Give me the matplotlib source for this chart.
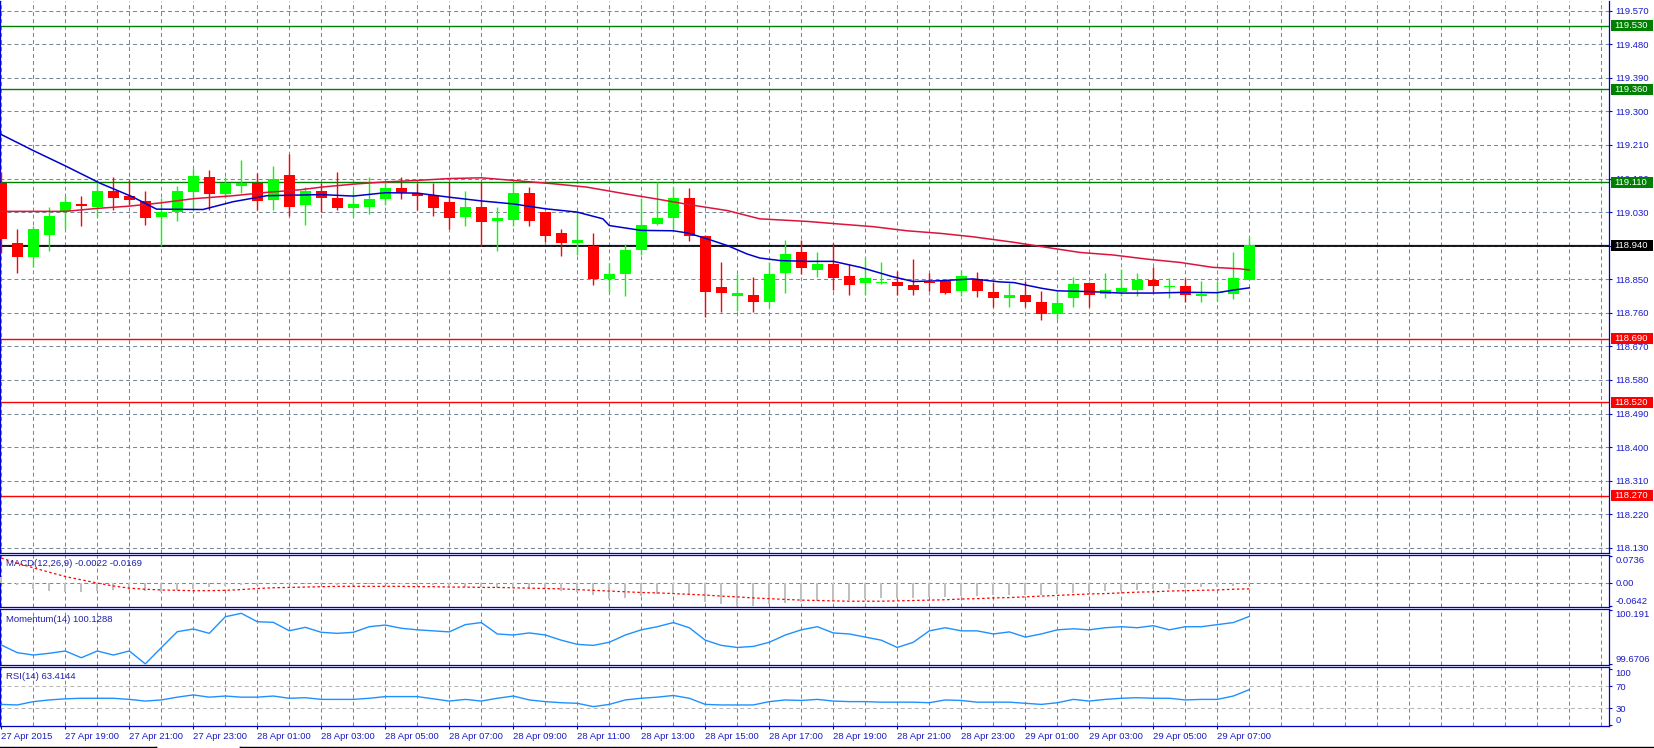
import numpy as np
import matplotlib.pyplot as plt
from matplotlib.patches import Rectangle
from matplotlib.lines import Line2D
from matplotlib.transforms import blended_transform_factory

# ---- data (USDJPY M30, 27-29 Apr 2015) ----
opens = [119.109, 118.948, 118.909, 118.968, 119.034, 119.053, 119.045, 119.086, 119.074, 119.061,
         119.016, 119.029, 119.084, 119.125, 119.079, 119.101, 119.107, 119.063, 119.129, 119.048,
         119.086, 119.068, 119.040, 119.045, 119.066, 119.095, 119.082, 119.077, 119.058, 119.016,
         119.043, 119.005, 119.008, 119.081, 119.029, 118.974, 118.946, 118.938, 118.851, 118.865,
         118.928, 118.997, 119.013, 119.068, 118.967, 118.828, 118.804, 118.809, 118.790, 118.866,
         118.924, 118.876, 118.891, 118.859, 118.839, 118.840, 118.843, 118.835, 118.843, 118.846,
         118.818, 118.851, 118.817, 118.799, 118.809, 118.790, 118.758, 118.801, 118.841, 118.810,
         118.817, 118.822, 118.848, 118.830, 118.832, 118.804, 118.812, 118.811, 118.849]
highs = [119.137, 118.986, 118.994, 119.045, 119.074, 119.074, 119.112, 119.125, 119.116, 119.086,
         119.068, 119.100, 119.146, 119.144, 119.125, 119.170, 119.136, 119.153, 119.187, 119.098,
         119.107, 119.138, 119.090, 119.125, 119.112, 119.125, 119.107, 119.107, 119.112, 119.086,
         119.112, 119.045, 119.112, 119.098, 119.031, 118.985, 119.032, 118.974, 118.894, 118.944,
         119.069, 119.112, 119.098, 119.096, 118.968, 118.897, 118.864, 118.855, 118.897, 118.956,
         118.956, 118.924, 118.946, 118.891, 118.907, 118.895, 118.873, 118.904, 118.866, 118.848,
         118.874, 118.869, 118.843, 118.839, 118.844, 118.819, 118.815, 118.855, 118.843, 118.866,
         118.877, 118.866, 118.884, 118.853, 118.853, 118.844, 118.846, 118.924, 118.964]
lows = [118.920, 118.868, 118.884, 118.927, 118.985, 118.992, 119.016, 119.035, 119.049, 118.996,
        118.940, 119.006, 119.035, 119.035, 119.068, 119.082, 119.036, 119.035, 119.019, 118.996,
        119.029, 119.035, 119.016, 119.024, 119.050, 119.066, 119.036, 119.019, 118.984, 118.993,
        118.938, 118.925, 118.994, 118.994, 118.950, 118.913, 118.916, 118.834, 118.817, 118.804,
        118.916, 118.995, 118.985, 118.952, 118.750, 118.762, 118.766, 118.762, 118.775, 118.814,
        118.864, 118.856, 118.821, 118.808, 118.808, 118.838, 118.808, 118.808, 118.819, 118.810,
        118.804, 118.803, 118.775, 118.776, 118.775, 118.741, 118.744, 118.776, 118.776, 118.799,
        118.806, 118.806, 118.817, 118.801, 118.788, 118.788, 118.791, 118.796, 118.849]
closes = [118.957, 118.911, 118.986, 119.020, 119.058, 119.046, 119.086, 119.068, 119.063, 119.013,
          119.029, 119.086, 119.128, 119.079, 119.107, 119.107, 119.060, 119.120, 119.045, 119.086,
          119.068, 119.042, 119.052, 119.066, 119.095, 119.082, 119.074, 119.040, 119.014, 119.043,
          119.003, 119.014, 119.082, 119.007, 118.966, 118.946, 118.956, 118.850, 118.863, 118.929,
          118.996, 119.014, 119.068, 118.967, 118.816, 118.812, 118.812, 118.789, 118.865, 118.919,
          118.879, 118.891, 118.854, 118.835, 118.853, 118.841, 118.833, 118.821, 118.839, 118.814,
          118.858, 118.819, 118.799, 118.809, 118.788, 118.758, 118.786, 118.837, 118.809, 118.821,
          118.827, 118.848, 118.831, 118.832, 118.808, 118.810, 118.813, 118.853, 118.943]

# moving averages, read at bar positions
ma_fast_x = [0, 2, 4, 6.2, 8.2, 9.7, 12.6, 14.5, 16.6, 20, 22, 24, 26, 28, 30, 32, 34, 36, 37.6,
             38, 40, 42, 42.9, 44, 45.4, 46.6, 47.4, 48.7, 50.4, 52, 53.7, 55.7, 57, 58.7, 60.7,
             62.4, 63.3, 65, 66, 68, 70, 72, 74, 76, 77, 78]
ma_fast_y = [119.238, 119.195, 119.154, 119.107, 119.071, 119.038, 119.037, 119.058, 119.074,
             119.077, 119.073, 119.082, 119.081, 119.070, 119.060, 119.052, 119.039, 119.030,
             119.012, 118.994, 118.981, 118.980, 118.974, 118.960, 118.940, 118.918, 118.907,
             118.900, 118.898, 118.898, 118.882, 118.857, 118.844, 118.846, 118.851, 118.843,
             118.841, 118.826, 118.819, 118.817, 118.813, 118.813, 118.815, 118.814, 118.821, 118.827]
ma_slow_x = [0, 4, 6, 8, 10, 12, 14.5, 16.6, 18.7, 20, 22, 24, 26, 28, 30, 32, 34.5, 36.6, 39, 41,
             43, 45.4, 47.4, 50.4, 52.4, 54.5, 56.6, 58.7, 60.7, 63.3, 65.4, 67.4, 69.5, 71.6,
             73.7, 75.7, 77.4, 78]
ma_slow_y = [119.032, 119.032, 119.040, 119.046, 119.055, 119.066, 119.074, 119.083, 119.090,
             119.097, 119.105, 119.111, 119.115, 119.120, 119.122, 119.115, 119.106, 119.097,
             119.079, 119.065, 119.050, 119.034, 119.012, 119.005, 118.998, 118.991, 118.980,
             118.973, 118.964, 118.949, 118.935, 118.922, 118.915, 118.904, 118.895, 118.882,
             118.878, 118.875]

# horizontal levels
levels_green = [119.530, 119.360, 119.110]
level_black = 118.940
levels_red = [118.690, 118.520, 118.270]
price_ticks = [119.570, 119.480, 119.390, 119.300, 119.210, 119.120, 119.030, 118.940, 118.850,
               118.760, 118.670, 118.580, 118.490, 118.400, 118.310, 118.220, 118.130]

macd_main = [0.017, -0.006, -0.018, -0.023, -0.025, -0.025, -0.023, -0.021, -0.021, -0.023,
             -0.026, -0.021, -0.018, -0.012, -0.009, -0.006, -0.005, -0.003, -0.004, -0.004,
             -0.004, -0.005, -0.005, -0.004, -0.003, -0.003, -0.005, -0.007, -0.010, -0.011,
             -0.013, -0.015, -0.012, -0.014, -0.018, -0.022, -0.025, -0.035, -0.045, -0.042,
             -0.036, -0.032, -0.028, -0.035, -0.052, -0.060, -0.063, -0.064, -0.060, -0.055,
             -0.052, -0.050, -0.048, -0.047, -0.045, -0.043, -0.042, -0.041, -0.040, -0.039,
             -0.037, -0.036, -0.035, -0.034, -0.033, -0.033, -0.031, -0.028, -0.026, -0.024,
             -0.022, -0.020, -0.018, -0.016, -0.015, -0.013, -0.011, -0.008, -0.0022]
macd_signal = [0.068, 0.054, 0.041, 0.029, 0.017, 0.008, -0.001, -0.009, -0.015, -0.018,
               -0.020, -0.021, -0.022, -0.022, -0.021, -0.019, -0.016, -0.014, -0.013, -0.012,
               -0.011, -0.010, -0.010, -0.010, -0.010, -0.010, -0.011, -0.011, -0.012, -0.012,
               -0.013, -0.013, -0.014, -0.015, -0.016, -0.017, -0.019, -0.021, -0.023, -0.025,
               -0.027, -0.028, -0.030, -0.032, -0.034, -0.037, -0.039, -0.042, -0.044, -0.046,
               -0.048, -0.049, -0.050, -0.051, -0.051, -0.051, -0.050, -0.049, -0.048, -0.047,
               -0.045, -0.044, -0.042, -0.041, -0.039, -0.037, -0.035, -0.033, -0.031, -0.030,
               -0.028, -0.026, -0.025, -0.023, -0.022, -0.021, -0.020, -0.018, -0.0169]
momentum = [99.854, 99.780, 99.757, 99.774, 99.796, 99.731, 99.796, 99.757, 99.796, 99.672,
            99.828, 99.982, 100.008, 99.966, 100.126, 100.159, 100.078, 100.072, 99.991, 100.024,
            99.976, 99.966, 99.976, 100.030, 100.046, 100.015, 100.000, 99.990, 99.980, 100.050,
            100.070, 99.960, 99.950, 99.970, 99.950, 99.900, 99.860, 99.850, 99.880, 99.950,
            100.000, 100.030, 100.070, 100.020, 99.900, 99.850, 99.830, 99.840, 99.880, 99.950,
            100.000, 100.030, 99.970, 99.960, 99.930, 99.900, 99.830, 99.880, 99.990, 100.020,
            99.990, 99.990, 99.960, 99.980, 99.930, 99.960, 100.000, 100.010, 100.000, 100.020,
            100.030, 100.020, 100.040, 100.000, 100.030, 100.030, 100.050, 100.070, 100.1288]
rsi = [37, 36, 42, 45, 47, 48, 48, 48, 46, 43, 45, 50, 54, 50, 52, 50, 50, 52, 48, 49,
       46, 46, 46, 48, 51, 51, 51, 47, 43, 46, 43, 48, 52, 45, 42, 40, 39, 33, 37, 45,
       48, 50, 53, 48, 37, 36, 36, 36, 42, 45, 44, 46, 43, 42, 42, 41, 41, 41, 40, 45,
       44, 41, 41, 41, 39, 37, 40, 46, 43, 46, 48, 49, 48, 48, 45, 46, 46, 52, 63.4144]

time_labels = ['27 Apr 2015', '27 Apr 19:00', '27 Apr 21:00', '27 Apr 23:00', '28 Apr 01:00',
               '28 Apr 03:00', '28 Apr 05:00', '28 Apr 07:00', '28 Apr 09:00', '28 Apr 11:00',
               '28 Apr 13:00', '28 Apr 15:00', '28 Apr 17:00', '28 Apr 19:00', '28 Apr 21:00',
               '28 Apr 23:00', '29 Apr 01:00', '29 Apr 03:00', '29 Apr 05:00', '29 Apr 07:00']

# ---- style ----
W, H = 1654, 748
AXIS_X = 1609          # pixel column of the price scale line
FRAME = '#0000CD'
TXT = '#1A1AC8'
GRID = dict(color='#778899', lw=0.75, ls=(0, (3.8, 2.9)))
FS = 6.8
plt.rcParams['font.family'] = ['Liberation Sans', 'DejaVu Sans']

fig = plt.figure(figsize=(W / 100, H / 100), dpi=100, facecolor='white')


def panel(top, bottom):
    """Axes placed by pixel rows, spanning the chart width."""
    ax = fig.add_axes([0, 1 - bottom / H, AXIS_X / W, (bottom - top) / H])
    ax.set_xlim(-1.3 / 16, (AXIS_X - 1.3) / 16)
    for s in ax.spines.values():
        s.set_color(FRAME)
        s.set_linewidth(0.9)
    ax.set_xticks(np.arange(0, 101, 2))
    ax.tick_params(axis='x', length=0, labelbottom=False)
    ax.yaxis.tick_right()
    ax.tick_params(axis='y', colors=FRAME, labelcolor=TXT, labelsize=FS, length=2.2,
                   width=0.8, pad=2.5)
    ax.grid(True, axis='x', **GRID)
    ax.set_axisbelow(True)
    return ax


n = len(opens)
idx = np.arange(n)
o, h, l, c = map(np.array, (opens, highs, lows, closes))

# ---- main price panel ----
ax = panel(0.5, 553)
ax.spines['top'].set_visible(False)
ax.set_ylim(119.570 - 542.3 / 373, 119.570 + 10.2 / 373)
ax.set_yticks(price_ticks)
ax.set_yticklabels([f'{v:.3f}' for v in price_ticks])
ax.grid(True, axis='y', **GRID)

for v in levels_green:
    ax.axhline(v, color='#008000', lw=1.0, zorder=2)
for v in levels_red:
    ax.axhline(v, color='#FF0000', lw=1.0, zorder=2)
ax.axhline(closes[-1], color='#778899', lw=1.0, zorder=2)
ax.axhline(level_black, color='black', lw=1.2, zorder=2)

up = c >= o
col = np.where(up, '#00FF00', '#FF0000')
ax.vlines(idx, l, h, colors=col, lw=1.0, zorder=3)
ax.bar(idx, np.maximum(np.abs(c - o), 1 / 373), bottom=np.minimum(o, c), width=0.67,
       color=col, lw=0, zorder=4)
ax.plot(ma_slow_x, ma_slow_y, color='#DC143C', lw=1.1, zorder=5)
ax.plot(ma_fast_x, ma_fast_y, color='#0000CD', lw=1.1, zorder=5)

# coloured price tags on the scale
tr = blended_transform_factory(ax.transAxes, ax.transData)
tags = [(v, '#008000') for v in levels_green] + [(level_black, 'black')] + \
       [(v, '#FF0000') for v in levels_red]
for v, fc in tags:
    ax.add_patch(Rectangle((1611 / AXIS_X, v - 5.5 / 373), 42 / AXIS_X, 11 / 373,
                           transform=tr, facecolor=fc, edgecolor='none',
                           clip_on=False, zorder=10))
    ax.text(1614.5 / AXIS_X, v, f'{v:.3f}', transform=tr, color='white', fontsize=FS,
            va='center', ha='left', zorder=11, clip_on=False)

# ---- MACD ----
ax2 = panel(555, 607)
ax2.set_ylim(-0.0642 - 1.0 * 0.002756, 0.0736 + 1.0 * 0.002756)
ax2.axhline(0, **GRID)
ax2.bar(idx, macd_main, width=0.13, color='#C0C0C0', lw=0, zorder=3)
ax2.plot(idx, macd_signal, color='#FF0000', lw=0.9, ls=(0, (2, 2)), zorder=4)
ax2.set_yticks([-0.0642, 0.0, 0.0736])
ax2.set_yticklabels(['-0.0642', '0.00', '0.0736'])
ax2.text(6 / AXIS_X, 0.84, f'MACD(12,26,9) {macd_main[-1]:.4f} {macd_signal[-1]:.4f}',
         transform=ax2.transAxes, color='#2020A8', fontsize=FS, va='center')

# ---- Momentum ----
ax3 = panel(609, 665)
step = (100.191 - 99.6706) / 54
ax3.set_ylim(99.6706 - step, 100.191 + step)
ax3.plot(idx, momentum, color='#1E90FF', lw=1.0, zorder=3)
ax3.set_yticks([99.6706, 100.191])
ax3.set_yticklabels(['99.6706', '100.191'])
ax3.text(6 / AXIS_X, 0.82, f'Momentum(14) {momentum[-1]:.4f}', transform=ax3.transAxes,
         color='#2020A8', fontsize=FS, va='center')

# ---- RSI ----
ax4 = panel(667, 726)
ax4.set_ylim(-1.75, 104.1)
ax4.axhline(70, color='#B8B8B8', lw=0.75, ls=(0, (3.8, 2.9)))
ax4.axhline(30, color='#B8B8B8', lw=0.75, ls=(0, (3.8, 2.9)))
ax4.plot(idx, rsi, color='#1E90FF', lw=1.0, zorder=3)
ax4.set_yticks([0, 30, 70, 100])
ax4.set_yticklabels(['0', '30', '70', '100'])
ax4.text(6 / AXIS_X, 0.835, f'RSI(14) {rsi[-1]:.4f}', transform=ax4.transAxes,
         color='#2020A8', fontsize=FS, va='center')

# max / min labels sit inside the sub-window edges
for a in (ax2, ax3, ax4):
    labs = a.get_yticklabels()
    labs[0].set_va('bottom')
    labs[-1].set_va('top')

# time scale under the last window
sec = ax4.secondary_xaxis('bottom')
sec.set_xticks(np.arange(0, 4 * len(time_labels), 4))
sec.set_xticklabels(time_labels)
sec.tick_params(axis='x', colors=FRAME, labelcolor=TXT, labelsize=FS, length=2.5,
                width=0.8, pad=1.5)
sec.spines['bottom'].set_visible(False)
for t in sec.get_xticklabels():
    t.set_ha('left')

# terminal tab strip at the very bottom
for x0, x1 in [(0, 156), (240, W)]:
    fig.add_artist(Line2D([x0 / W, x1 / W], [1 - 746.5 / H] * 2, color='black', lw=1.0))
for x in (156, 240):
    fig.add_artist(Line2D([x / W] * 2, [0, 1 - 746.5 / H], color='black', lw=1.0))

fig.savefig('out.png', dpi=100, facecolor='white')
